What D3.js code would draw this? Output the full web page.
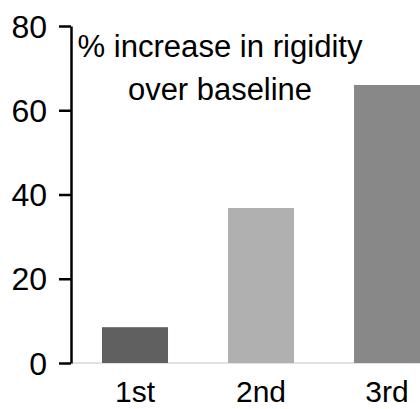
<!DOCTYPE html>
<html><head><meta charset="utf-8">
<script src="https://cdn.jsdelivr.net/npm/d3@7"></script>
<style>body{margin:0;background:#fff}svg{display:block}</style>
</head><body>
<svg id="c" width="420" height="409"></svg>
<script>
const categories = ["1st", "2nd", "3rd"];
const values = [8.5, 36.8, 66];
const colors = ["#606060", "#b0b0b0", "#888888"];
const yTicks = [0, 20, 40, 60, 80];
const titleLines = ["% increase in rigidity", "over baseline"];

const svg = d3.select("#c");
const font = "'Liberation Sans', Arial, sans-serif";
const x = d3.scaleBand().domain(categories).range([72, 450]).paddingInner(0.476).paddingOuter(0.238);
const y = d3.scaleLinear().domain([0, 80]).range([363, 26]);

// baseline
svg.append("line").attr("x1", 72).attr("x2", 420).attr("y1", y(0)).attr("y2", y(0))
  .attr("stroke", "#d9d9d9").attr("stroke-width", 1.5);

svg.selectAll("rect.bar").data(values).enter().append("rect")
  .attr("class", "bar")
  .attr("x", (d, i) => x(categories[i]))
  .attr("width", x.bandwidth())
  .attr("y", d => y(d))
  .attr("height", d => y(0) - y(d))
  .attr("fill", (d, i) => colors[i]);

const yAxis = d3.axisLeft(y).tickValues(yTicks).tickSize(12).tickSizeOuter(0).tickPadding(12);
const ga = svg.append("g").attr("transform", "translate(71,0)").call(yAxis);
ga.select(".domain").attr("stroke", "#000").attr("stroke-width", 2.5);
ga.selectAll(".tick line").attr("stroke", "#000").attr("stroke-width", 2.5);
ga.selectAll(".tick text").attr("font-family", font).attr("font-size", 32).attr("fill", "#000").attr("dy", "0.35em");

const xAxis = d3.axisBottom(x).tickSize(0).tickPadding(0);
const gx = svg.append("g").attr("transform", "translate(0,363)").call(xAxis);
gx.select(".domain").remove();
gx.selectAll(".tick text").attr("font-family", font).attr("font-size", 30).attr("fill", "#000")
  .attr("y", 39).attr("dy", 0);

const title = svg.append("g");
const tl = [{t: titleLines[0], y: 57, w: 285}, {t: titleLines[1], y: 100, w: 184}];
title.selectAll("text").data(tl).enter().append("text")
  .attr("x", 220).attr("y", d => d.y).attr("text-anchor", "middle")
  .attr("font-family", font).attr("font-size", 31).attr("fill", "#000")
  .attr("textLength", d => d.w).attr("lengthAdjust", "spacingAndGlyphs")
  .text(d => d.t);
</script>
</body></html>
